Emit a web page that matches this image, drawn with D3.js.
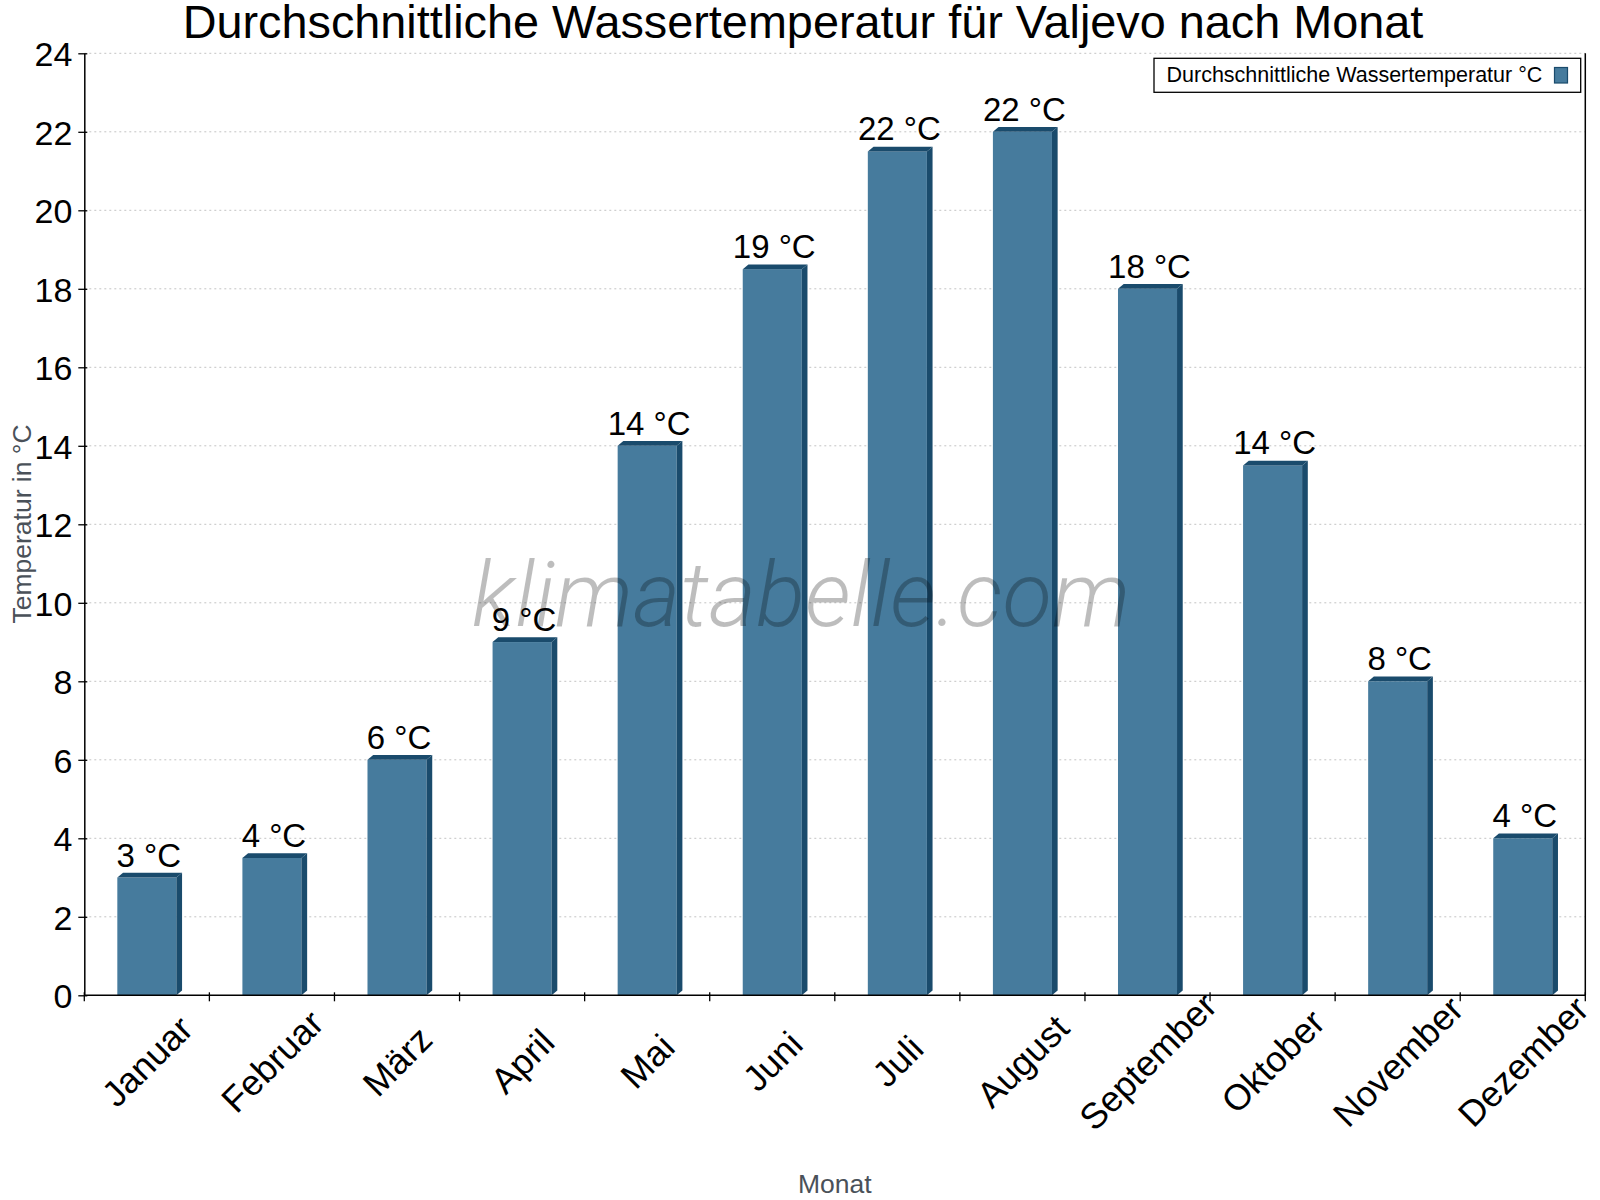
<!DOCTYPE html>
<html>
<head>
<meta charset="utf-8">
<script src="https://cdn.jsdelivr.net/npm/d3@7"></script>
<style>
  body { margin: 0; background: #fff; }
  text { font-family: "Liberation Sans", Arial, sans-serif; }
</style>
</head>
<body>
<div id="chart"></div>
<script>
var months = ['Januar', 'Februar', 'März', 'April', 'Mai', 'Juni', 'Juli', 'August', 'September', 'Oktober', 'November', 'Dezember'];
var waterTemp = [3, 3.5, 6, 9, 14, 18.5, 21.5, 22, 18, 13.5, 8, 4];
var yTicks = [0, 2, 4, 6, 8, 10, 12, 14, 16, 18, 20, 22, 24];

var title = 'Durchschnittliche Wassertemperatur für Valjevo nach Monat';
var seriesName = 'Durchschnittliche Wassertemperatur °C';

var frontColor = '#467b9d';
var darkColor = '#1a4b6c';

var width = 1600, height = 1200;
var plotLeft = 84.3, plotRight = 1585.3, plotTop = 53.3, plotBottom = 995.3;
var depthX = 5.7, depthY = 4.7;

var svg = d3.select('#chart')
    .append('svg')
    .attr('width', width)
    .attr('height', height)

var x = d3.scaleBand()
    .domain(months)
    .range([plotLeft, plotRight])
    .paddingInner(0.528)
    .paddingOuter(0.264)

var y = d3.scaleLinear()
    .domain([0, 24])
    .range([plotBottom, plotTop])

var step = x.step();

// grid
svg.append('g')
    .selectAll('line')
    .data(yTicks.filter(function(d){ return d > 0 }))
    .enter()
    .append('line')
    .attr('x1', plotLeft)
    .attr('x2', plotRight)
    .attr('y1', function(d){ return y(d) })
    .attr('y2', function(d){ return y(d) })
    .attr('stroke', '#c4c4c4')
    .attr('stroke-width', 1)
    .attr('stroke-dasharray', '2,3')

// bars
var bars = svg.append('g')
    .selectAll('g')
    .data(waterTemp)
    .enter()
    .append('g')

bars.append('rect')
    .attr('x', function(d, i){ return x(months[i]) })
    .attr('y', function(d){ return y(d) })
    .attr('width', x.bandwidth())
    .attr('height', function(d){ return plotBottom - y(d) })
    .attr('fill', frontColor)

// top face
bars.append('path')
    .attr('d', function(d, i){
        var x0 = x(months[i]), x1 = x0 + x.bandwidth(), yt = y(d);
        return 'M' + x0 + ',' + yt + 'L' + (x0 + depthX) + ',' + (yt - depthY) +
            'L' + (x1 + depthX) + ',' + (yt - depthY) + 'L' + x1 + ',' + yt + 'Z';
    })
    .attr('fill', darkColor)

// side face
bars.append('path')
    .attr('d', function(d, i){
        var x1 = x(months[i]) + x.bandwidth(), yt = y(d);
        return 'M' + x1 + ',' + yt + 'L' + (x1 + depthX) + ',' + (yt - depthY) +
            'L' + (x1 + depthX) + ',' + (plotBottom - depthY) + 'L' + x1 + ',' + plotBottom + 'Z';
    })
    .attr('fill', darkColor)

// value labels
bars.append('text')
    .attr('x', function(d, i){ return x(months[i]) + x.bandwidth() / 2 + 2 })
    .attr('y', function(d){ return y(d) - 11 })
    .attr('text-anchor', 'middle')
    .attr('font-size', '33px')
    .attr('fill', '#000')
    .text(function(d){ return Math.round(d) + ' °C' })

// y axis
var yAxis = d3.axisLeft(y)
    .tickValues(yTicks)
    .tickSizeInner(6)
    .tickSizeOuter(0)
    .tickPadding(6)

var yg = svg.append('g')
    .attr('transform', 'translate(' + plotLeft + ',0)')
    .call(yAxis)
yg.select('.domain').attr('stroke', '#000').attr('stroke-width', 1.5)
yg.selectAll('.tick line').attr('x2', 3).attr('x1', -6).attr('stroke', '#000').attr('stroke-width', 1.3)
yg.selectAll('.tick text')
    .attr('font-size', '34px')
    .attr('font-family', '"Liberation Sans", Arial, sans-serif')
    .attr('fill', '#000')
    .attr('dy', '0.36em')

// right border
svg.append('line')
    .attr('x1', plotRight).attr('x2', plotRight)
    .attr('y1', plotTop).attr('y2', plotBottom)
    .attr('stroke', '#000').attr('stroke-width', 1.5)

// x axis
svg.append('line')
    .attr('x1', plotLeft).attr('x2', plotRight)
    .attr('y1', plotBottom).attr('y2', plotBottom)
    .attr('stroke', '#000').attr('stroke-width', 1.5)

svg.append('g')
    .selectAll('line')
    .data(months.concat(['end']))
    .enter()
    .append('line')
    .attr('x1', function(d, i){ return plotLeft + i * step })
    .attr('x2', function(d, i){ return plotLeft + i * step })
    .attr('y1', plotBottom - 3)
    .attr('y2', plotBottom + 6)
    .attr('stroke', '#000')
    .attr('stroke-width', 1.3)

svg.append('g')
    .selectAll('text')
    .data(months)
    .enter()
    .append('text')
    .attr('transform', function(d){
        return 'translate(' + (x(d) + x.bandwidth() / 2) + ',' + 1061 + ') rotate(-45)'
    })
    .attr('text-anchor', 'middle')
    .attr('dy', '0.36em')
    .attr('font-size', '36px')
    .attr('fill', '#000')
    .text(function(d){ return d })

// axis titles
svg.append('text')
    .attr('x', (plotLeft + plotRight) / 2)
    .attr('y', 1193)
    .attr('text-anchor', 'middle')
    .attr('font-size', '26.5px')
    .attr('fill', '#4a5159')
    .text('Monat')

svg.append('text')
    .attr('transform', 'translate(31,' + 524 + ') rotate(-90)')
    .attr('text-anchor', 'middle')
    .attr('font-size', '26.5px')
    .attr('fill', '#4a5159')
    .text('Temperatur in °C')

// title
svg.append('text')
    .attr('x', 803)
    .attr('y', 38)
    .attr('text-anchor', 'middle')
    .attr('font-size', '46.8px')
    .attr('fill', '#000')
    .text(title)

// legend
var legend = svg.append('g')
legend.append('rect')
    .attr('x', 1154)
    .attr('y', 58.3)
    .attr('width', 426.7)
    .attr('height', 34)
    .attr('fill', '#fff')
    .attr('stroke', '#000')
    .attr('stroke-width', 1.3)
legend.append('text')
    .attr('x', 1166.5)
    .attr('y', 82.3)
    .attr('font-size', '21.5px')
    .attr('fill', '#000')
    .text(seriesName)
legend.append('rect')
    .attr('x', 1554.5)
    .attr('y', 67.5)
    .attr('width', 13)
    .attr('height', 15.5)
    .attr('fill', frontColor)
    .attr('stroke', darkColor)
    .attr('stroke-width', 1.2)

// watermark
svg.append('text')
    .attr('x', 801)
    .attr('y', 626)
    .attr('text-anchor', 'middle')
    .attr('font-size', '91px')
    .attr('font-style', 'italic')
    .attr('font-weight', 300)
    .style('font-family', 'Roboto, "Liberation Sans", sans-serif')
    .attr('fill', 'rgba(0,0,0,0.26)')
    .text('klimatabelle.com')
</script>
</body>
</html>
